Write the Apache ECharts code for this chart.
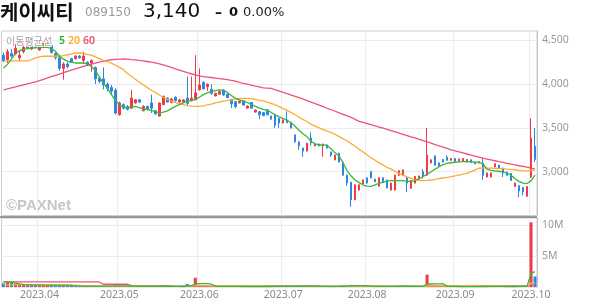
<!DOCTYPE html>
<html><head><meta charset="utf-8">
<script src="https://cdn.jsdelivr.net/npm/echarts@6/dist/echarts.min.js"></script>
<style>html,body{margin:0;padding:0;background:#fff}#c{width:594px;height:304px}</style>
</head><body><div id="c"></div>
<script>
// ---- categories (trading days) ----
const tradingDays = [
  ['2023.03', [21,22,23,24,27,28,29,30,31]],
  ['2023.04', [3,4,5,6,7,10,11,12,13,14,17,18,19,20,21,24,25,26,27,28]],
  ['2023.05', [2,3,4,8,9,10,11,12,15,16,17,18,19,22,23,24,25,26,30,31]],
  ['2023.06', [1,2,5,7,8,9,12,13,14,15,16,19,20,21,22,23,26,27,28,29,30]],
  ['2023.07', [3,4,5,6,7,10,11,12,13,14,17,18,19,20,21,24,25,26,27,28,31]],
  ['2023.08', [1,2,3,4,7,8,9,10,11,14,16,17,18,21,22,23,24,25,28,29,30,31]],
  ['2023.09', [1,4,5,6,7,8,11,12,13,14,15,18,19,20,21,22,25,26,27]],
  ['2023.10', [4,5]]
];
const dates = [];
tradingDays.forEach(([m, ds]) => ds.forEach(d => dates.push(m + '.' + String(d).padStart(2,'0'))));

// ---- price series ----
const open = [
4330,4280,4350,4345,4300,4370,4470,4400,4460,4390,
4440,4460,4440,4350,4300,4180,4230,4290,4290,4320,
4270,4250,4240,4190,4070,4060,4000,3960,3930,3650,
3765,3745,3725,3785,3820,3695,3745,3785,3695,3635,
3765,3840,3790,3850,3795,3795,3840,3810,3825,3935,
4020,3970,3940,3865,3885,3930,3885,3825,3800,3785,
3810,3725,3790,3680,3685,3675,3705,3635,3650,3610,
3555,3590,3555,3420,3340,3270,3235,3385,3295,3315,
3295,3305,3225,3135,3210,3100,2960,2880,2680,2790,
2860,2930,3000,2915,2835,2930,2905,2790,2790,2960,
2960,2930,2810,2870,2915,3000,2960,3100,3180,3100,
3140,3165,3130,3150,3120,3120,3110,3135,3110,3100,
3100,2940,2940,3055,3075,3040,2995,2980,2830,2840,
2820,2720,2940,3290];
const close = [
4265,4370,4320,4410,4330,4420,4410,4460,4420,4480,
4470,4500,4360,4300,4180,4230,4200,4250,4320,4300,
4320,4220,4270,4060,4030,3990,3950,3920,3670,3785,
3725,3710,3840,3820,3795,3745,3710,3725,3660,3785,
3860,3795,3830,3810,3820,3820,3780,3840,3900,3990,
3945,4000,3895,3895,3915,3875,3845,3775,3745,3805,
3760,3750,3725,3705,3650,3640,3650,3600,3530,3555,
3590,3560,3500,3340,3295,3235,3325,3330,3315,3295,
3315,3270,3190,3190,3110,2960,2870,2680,2850,2850,
2905,2870,2930,2885,2930,2880,2815,2870,2960,3010,
3020,2870,2900,2945,2950,2945,3190,3135,3075,3065,
3110,3130,3150,3120,3145,3150,3140,3105,3090,3115,
2960,2985,2985,3090,3040,2985,2960,2900,2870,2780,
2770,2830,3385,3140];
const low = [
4250,4240,4300,4330,4260,4350,4400,4390,4410,4380,
4430,4450,4350,4280,4150,4050,4180,4240,4280,4290,
4230,4210,4140,4000,4010,3940,3920,3880,3650,3640,
3710,3700,3715,3775,3785,3690,3700,3670,3650,3630,
3760,3790,3780,3800,3790,3790,3760,3800,3820,3925,
3940,3920,3875,3860,3880,3870,3840,3725,3725,3780,
3755,3720,3720,3675,3600,3635,3645,3595,3500,3500,
3550,3555,3495,3335,3250,3170,3230,3300,3290,3290,
3170,3265,3170,3130,3105,2955,2840,2600,2675,2785,
2855,2865,2925,2880,2830,2875,2810,2785,2785,2955,
2955,2770,2805,2865,2910,2920,2955,3095,3070,3060,
3105,3125,3125,3115,3115,3115,3105,3100,3085,3095,
2905,2935,2935,3050,3035,2940,2955,2895,2825,2710,
2730,2715,2930,3110];
const high = [
4360,4400,4400,4460,4390,4470,4490,4480,4470,4500,
4490,4530,4470,4360,4330,4250,4250,4300,4330,4330,
4370,4260,4280,4200,4090,4190,4020,3990,3950,3800,
3780,3760,3935,3830,3830,3760,3755,3880,3705,3790,
3870,3850,3840,3860,3830,3830,4085,4085,4330,4180,
4030,4005,4000,3900,3920,3940,3890,3830,3805,3810,
3815,3755,3795,3710,3690,3680,3710,3640,3655,3615,
3595,3690,3560,3425,3345,3275,3330,3450,3320,3320,
3320,3310,3230,3195,3215,3105,2965,2885,2855,2855,
2910,2935,3010,2920,2935,2935,2910,2875,2965,3015,
3025,2935,2905,2950,2955,3030,3500,3140,3185,3105,
3145,3190,3155,3155,3150,3155,3145,3140,3115,3120,
3155,2990,2990,3095,3080,3045,3000,2985,2875,2845,
2825,2835,3610,3500];

// moving averages
const ma5 = [
4180,4225,4285,4350,4380,4398,4405,4410,4413,4416,
4418,4418,4405,4375,4318,4285,4262,4247,4241,4241,
4241,4230,4200,4155,4080,4010,3950,3880,3815,3765,
3735,3730,3738,3745,3730,3718,3710,3700,3685,3672,
3680,3695,3720,3745,3765,3785,3807,3815,3820,3850,
3880,3900,3915,3925,3933,3932,3905,3870,3840,3820,
3805,3790,3768,3745,3725,3712,3703,3675,3650,3625,
3605,3585,3560,3515,3470,3430,3398,3345,3318,3305,
3305,3300,3260,3215,3175,3100,3010,2950,2905,2875,
2848,2835,2832,2850,2868,2880,2892,2897,2897,2897,
2897,2890,2888,2900,2920,2945,2970,3000,3030,3057,
3080,3095,3102,3108,3112,3114,3114,3113,3110,3107,
3090,3030,3015,3010,3005,2995,2985,2960,2920,2890,
2870,2865,2895,2960];
const ma20 = [
4265,4265,4265,4265,4265,4265,4265,4280,4300,4310,
4318,4318,4318,4318,4318,4325,4335,4345,4355,4356,
4352,4340,4330,4310,4290,4270,4255,4240,4215,4190,
4165,4120,4090,4055,4020,3990,3960,3930,3905,3875,
3850,3825,3805,3790,3775,3765,3755,3748,3746,3746,
3752,3762,3772,3785,3795,3805,3812,3820,3828,3834,
3838,3838,3835,3825,3815,3808,3795,3780,3762,3743,
3720,3700,3675,3650,3622,3595,3570,3540,3520,3500,
3480,3462,3445,3425,3400,3375,3350,3320,3290,3255,
3225,3190,3160,3130,3100,3075,3050,3030,3005,2980,
2960,2940,2925,2910,2900,2898,2900,2905,2912,2920,
2928,2935,2943,2952,2962,2972,2982,3000,3020,3040,
3042,3040,3040,3038,3036,3034,3030,3027,3022,3016,
3012,3010,3015,3020];
const ma60 = [
3933,3945,3957,3968,3980,3991,4002,4013,4026,4040,
4055,4070,4085,4100,4115,4130,4145,4160,4174,4188,
4202,4215,4228,4240,4252,4262,4271,4278,4283,4286,
4287,4285,4280,4276,4270,4265,4258,4250,4242,4232,
4220,4205,4190,4175,4160,4145,4130,4118,4106,4095,
4085,4080,4075,4069,4063,4057,4050,4042,4034,4020,
4009,3999,3988,3977,3967,3956,3953,3950,3935,3920,
3905,3890,3875,3860,3845,3828,3811,3794,3776,3759,
3742,3724,3707,3690,3672,3655,3637,3620,3598,3575,
3562,3549,3536,3522,3509,3496,3482,3468,3454,3440,
3426,3412,3398,3385,3370,3355,3340,3325,3310,3295,
3280,3265,3250,3238,3226,3214,3202,3190,3178,3166,
3154,3144,3134,3125,3115,3106,3096,3087,3077,3068,
3060,3052,3040,3030];

// ---- volume ----
const volume = [
600000,800000,700000,500000,450000,400000,350000,300000,350000,300000,
280000,300000,320000,260000,350000,300000,220000,180000,150000,130000,
150000,120000,130000,200000,150000,180000,120000,110000,300000,200000,
120000,100000,180000,90000,80000,110000,90000,130000,100000,150000,
140000,90000,80000,90000,70000,80000,500000,250000,1500000,350000,
200000,120000,110000,80000,70000,90000,80000,110000,100000,70000,
80000,70000,90000,70000,100000,80000,90000,70000,150000,120000,
80000,90000,100000,180000,140000,130000,160000,150000,70000,60000,
90000,80000,110000,90000,120000,200000,220000,350000,250000,150000,
120000,100000,110000,80000,110000,90000,120000,100000,160000,130000,
110000,140000,100000,90000,80000,100000,2000000,250000,180000,120000,
90000,100000,80000,70000,60000,70000,60000,70000,60000,50000,
150000,100000,80000,90000,70000,80000,70000,110000,90000,120000,
100000,110000,10500000,1700000];
const volMa5 = [
850000,830000,780000,650000,500000,380000,350000,340000,340000,330000,
320000,320000,310000,300000,300000,300000,290000,260000,220000,180000,
150000,140000,130000,140000,150000,150000,150000,150000,170000,180000,
190000,170000,160000,140000,110000,110000,100000,100000,100000,110000,
120000,120000,120000,110000,90000,80000,170000,200000,480000,540000,
560000,560000,480000,150000,110000,100000,90000,90000,90000,90000,
85000,85000,80000,85000,80000,80000,85000,85000,100000,110000,
100000,100000,105000,115000,120000,125000,140000,150000,130000,110000,
100000,90000,85000,90000,100000,120000,140000,190000,230000,235000,
220000,190000,150000,110000,100000,100000,105000,105000,115000,120000,
125000,130000,125000,110000,105000,100000,470000,490000,500000,510000,
530000,150000,110000,90000,80000,75000,65000,65000,65000,60000,
80000,85000,90000,90000,100000,90000,80000,85000,85000,95000,
100000,100000,2200000,2500000];
const volMa20 = [
350000,350000,340000,340000,340000,340000,340000,330000,330000,330000,
330000,330000,330000,330000,320000,310000,300000,290000,270000,250000,
230000,210000,200000,190000,180000,170000,160000,150000,150000,150000,
145000,140000,135000,130000,125000,120000,120000,120000,120000,120000,
120000,115000,115000,110000,110000,110000,130000,140000,210000,220000,
220000,220000,220000,220000,215000,210000,210000,210000,210000,210000,
210000,210000,210000,210000,200000,190000,190000,130000,110000,100000,
95000,95000,95000,100000,100000,105000,110000,110000,110000,110000,
110000,110000,110000,115000,115000,120000,125000,140000,150000,155000,
160000,160000,160000,160000,160000,160000,155000,155000,150000,140000,
130000,130000,125000,120000,115000,110000,200000,205000,205000,205000,
205000,205000,205000,200000,200000,200000,200000,200000,200000,195000,
195000,195000,195000,195000,195000,195000,100000,95000,95000,90000,
90000,90000,610000,690000];
const volMa60 = [
820000,820000,820000,820000,820000,820000,820000,820000,820000,820000,
820000,820000,820000,820000,820000,820000,820000,820000,820000,820000,
820000,820000,820000,820000,820000,450000,450000,450000,450000,450000,
450000,450000,220000,220000,220000,220000,220000,220000,220000,220000,
220000,220000,150000,150000,150000,150000,150000,150000,170000,170000,
170000,170000,170000,170000,170000,170000,170000,170000,170000,170000,
170000,170000,170000,170000,170000,170000,170000,170000,170000,170000,
160000,160000,160000,160000,160000,160000,160000,160000,160000,160000,
150000,150000,150000,150000,150000,150000,150000,150000,150000,150000,
140000,140000,140000,140000,140000,140000,140000,140000,140000,140000,
130000,130000,130000,130000,130000,130000,160000,160000,160000,160000,
160000,160000,160000,160000,160000,160000,160000,160000,160000,160000,
160000,160000,160000,160000,160000,160000,160000,160000,160000,160000,
160000,160000,330000,360000];

// ---- tick labels ----
const priceTicks = [3000, 3500, 4000, 4500];
const volTicks = ['5M', '10M'];

// ---- styles ----
const UP = '#ef3b47', DOWN = '#2b86e8';
const C5 = '#38b838', C20 = '#ffab34', C60 = '#f2507a';
const GRID_LINE = '#ececec';

const isMonthStart = (i) => i > 0 && dates[i].slice(0,7) !== dates[i-1].slice(0,7);

const candleData = dates.map((d, i) => [open[i], close[i], low[i], high[i]]);
const volData = volume.map((v, i) => ({ value: v, itemStyle: { color: close[i] >= open[i] ? UP : DOWN } }));

const chart = echarts.init(document.getElementById('c'), null, { renderer: 'canvas', width: 594, height: 304 });

const xCommon = {
  type: 'category', data: dates, boundaryGap: true,
  axisLine: { show: false }, axisTick: { show: false },
  splitLine: { show: true, interval: (i) => isMonthStart(i), lineStyle: { color: GRID_LINE, width: 1 } }
};

chart.setOption({
  animation: false,
  backgroundColor: '#fff',
  grid: [
    { left: 1.5, top: 31, width: 535.5, height: 184.5, show: true, borderColor: '#cdcdcd', borderWidth: 1 },
    { left: 1.5, top: 218, width: 535.5, height: 69, show: true, borderColor: '#cdcdcd', borderWidth: 1 }
  ],
  xAxis: [
    Object.assign({}, xCommon, { gridIndex: 0, axisLabel: { show: false } }),
    Object.assign({}, xCommon, { gridIndex: 1,
      axisLabel: { show: true, interval: (i) => isMonthStart(i), formatter: (v) => v.slice(0,7),
        color: '#8a8a8a', fontSize: 10.5, fontFamily: 'Noto Sans', margin: 3 } })
  ],
  yAxis: [
    { type: 'value', gridIndex: 0, position: 'right', min: 2500, max: 4606, interval: 500,
      axisLine: { show: true, lineStyle: { color: '#c4c4c4' } }, axisTick: { show: false },
      axisLabel: { color: '#999', fontSize: 10.5, fontFamily: 'Noto Sans', margin: 5, showMinLabel: false, showMaxLabel: false,
        formatter: (v) => priceTicks.includes(v) ? v.toLocaleString('en-US') : '' },
      splitLine: { show: true, showMinLine: false, showMaxLine: false, lineStyle: { color: GRID_LINE } } },
    { type: 'value', gridIndex: 1, position: 'right', min: 0, max: 11200000, interval: 5000000,
      axisLine: { show: true, lineStyle: { color: '#c4c4c4' } }, axisTick: { show: false },
      axisLabel: { color: '#999', fontSize: 10.5, fontFamily: 'Noto Sans', margin: 5, showMinLabel: false, showMaxLabel: false,
        formatter: (v) => { const s = (v / 1e6) + 'M'; return volTicks.includes(s) ? s : ''; } },
      splitLine: { show: true, showMinLine: false, showMaxLine: false, lineStyle: { color: GRID_LINE } } }
  ],
  series: [
    { type: 'candlestick', xAxisIndex: 0, yAxisIndex: 0, data: candleData, barWidth: 2,
      itemStyle: { color: UP, color0: DOWN, borderColor: UP, borderColor0: DOWN, borderWidth: 1 } },
    { type: 'line', xAxisIndex: 0, yAxisIndex: 0, data: ma60, showSymbol: false, symbol: 'none', lineStyle: { color: C60, width: 1.3 } },
    { type: 'line', xAxisIndex: 0, yAxisIndex: 0, data: ma20, showSymbol: false, symbol: 'none', lineStyle: { color: C20, width: 1.3 } },
    { type: 'line', xAxisIndex: 0, yAxisIndex: 0, data: ma5, showSymbol: false, symbol: 'none', lineStyle: { color: C5, width: 1.3 } },
    { type: 'bar', xAxisIndex: 1, yAxisIndex: 1, data: volData, barWidth: 3 },
    { type: 'line', xAxisIndex: 1, yAxisIndex: 1, data: volMa60, showSymbol: false, symbol: 'none', lineStyle: { color: C60, width: 1.3 } },
    { type: 'line', xAxisIndex: 1, yAxisIndex: 1, data: volMa20, showSymbol: false, symbol: 'none', lineStyle: { color: C20, width: 1.3 } },
    { type: 'line', xAxisIndex: 1, yAxisIndex: 1, data: volMa5, showSymbol: false, symbol: 'none', lineStyle: { color: C5, width: 1.3 } }
  ],
  graphic: [
    { type: 'line', z: 100, shape: { x1: 0, y1: 217, x2: 537, y2: 217 }, style: { stroke: '#3a3a3a', lineWidth: 1.2 } },
    { type: 'text', x: 0, y: 12, style: { text: '케이씨티', font: 'bold 20px "Noto Sans CJK KR"', fill: '#111', textVerticalAlign: 'middle', verticalAlign: 'middle' } },
    { type: 'text', x: 85, y: 12.5, style: { text: '089150', font: '12px "DejaVu Sans"', fill: '#9a9a9a', textVerticalAlign: 'middle', verticalAlign: 'middle' } },
    { type: 'text', x: 143, y: 11.5, style: { text: '3,140', font: '20px "DejaVu Sans"', fill: '#111', textVerticalAlign: 'middle', verticalAlign: 'middle' } },
    { type: 'text', x: 215, y: 13, style: { text: '–', font: 'bold 14px "DejaVu Sans"', fill: '#111', textVerticalAlign: 'middle', verticalAlign: 'middle' } },
    { type: 'text', x: 229, y: 13, style: { text: '0', font: 'bold 13px "DejaVu Sans"', fill: '#111', textVerticalAlign: 'middle', verticalAlign: 'middle' } },
    { type: 'text', x: 243, y: 13, style: { text: '0.00%', font: '13px "DejaVu Sans"', fill: '#222', textVerticalAlign: 'middle', verticalAlign: 'middle' } },
    { type: 'text', x: 6, y: 41, z: 100, style: { text: '이동평균선', font: '10px "Noto Sans CJK KR"', fill: '#a3a3a3', stroke: '#fff', lineWidth: 2, textVerticalAlign: 'middle', verticalAlign: 'middle' } },
    { type: 'text', x: 59, y: 41, z: 100, style: { text: '5', font: '600 10.5px "Noto Sans"', fill: '#2fb42f', textVerticalAlign: 'middle', verticalAlign: 'middle' } },
    { type: 'text', x: 68, y: 41, z: 100, style: { text: '20', font: '600 10.5px "Noto Sans"', fill: '#ffa82e', textVerticalAlign: 'middle', verticalAlign: 'middle' } },
    { type: 'text', x: 83, y: 41, z: 100, style: { text: '60', font: '600 10.5px "Noto Sans"', fill: '#f0506e', textVerticalAlign: 'middle', verticalAlign: 'middle' } },
    { type: 'text', x: 6, y: 206, z: 100, style: { text: '©PAXNet', font: 'bold 15px "Liberation Sans"', fill: '#c6c6c6', textVerticalAlign: 'middle', verticalAlign: 'middle' } }
  ]
});
</script></body></html>
